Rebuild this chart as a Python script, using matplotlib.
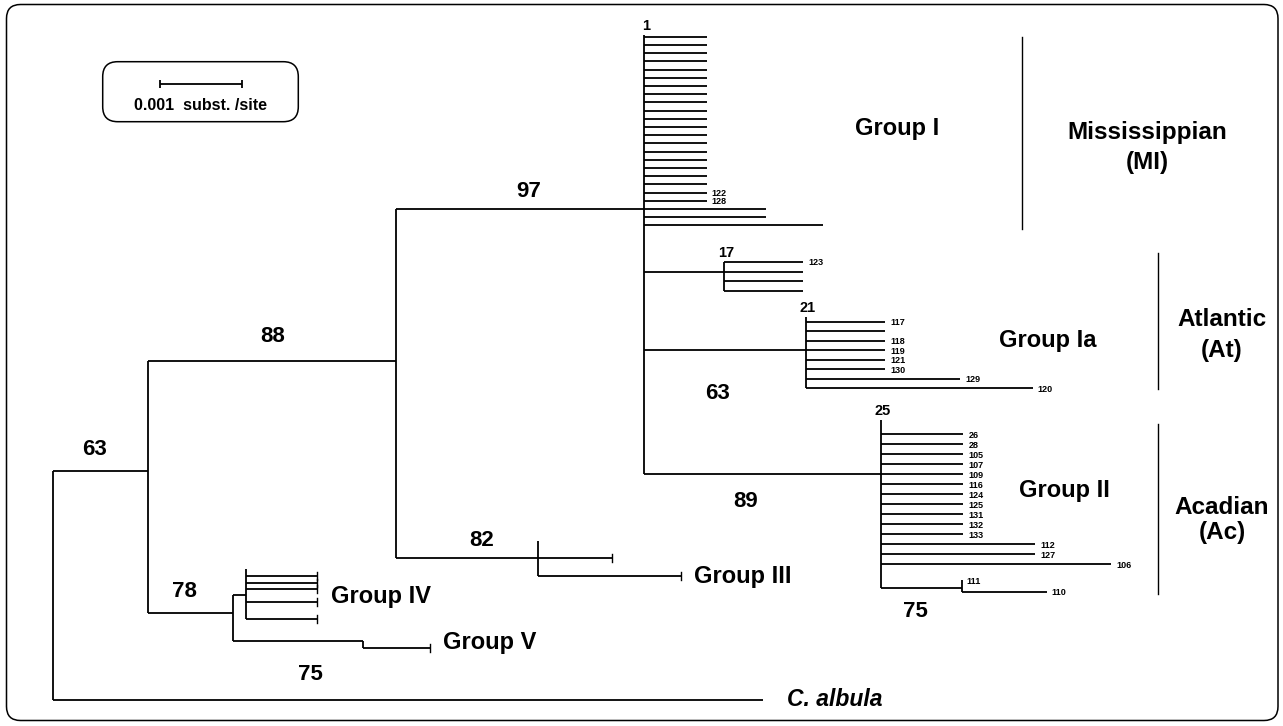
import matplotlib.pyplot as plt
from matplotlib.patches import FancyBboxPatch
from matplotlib.transforms import IdentityTransform

plt.rcParams['font.family'] = ['Liberation Sans', 'DejaVu Sans']

# ---------------------------------------------------------------
# tree data, branch lengths in subst./site
# ---------------------------------------------------------------
stem_parent = ['root', 'n63', 'n88', 'n97', 'n97', 'n97', 'n25', 'n88', 'n63', 'n78', 'n78']
stem_child = ['n63', 'n88', 'n97', 'n17', 'n21', 'n25', 'n111', 'n82', 'n78', 'nIV', 'nV']
stem_len = [0.00116, 0.00304, 0.00303, 0.00098, 0.00198, 0.00290,
            0.00099, 0.00173, 0.00104, 0.00016, 0.00159]

albula_len = 0.00869

# terminal branches hanging from each node
group1_len = [0.00077, 0.00077, 0.00077, 0.00077, 0.00077, 0.00077, 0.00077,
              0.00077, 0.00077, 0.00077, 0.00077, 0.00077, 0.00077, 0.00077,
              0.00077, 0.00077, 0.00077, 0.00077, 0.00077, 0.00077, 0.00077,
              0.00149, 0.00149, 0.00219]
group1_lab = [''] * 19 + ['122', '128', '', '', '']

hap17_len = [0.00097, 0.00097, 0.00097, 0.00097]
hap17_lab = ['123', '', '', '']

hap21_len = [0.00097, 0.00097, 0.00097, 0.00097, 0.00097, 0.00097, 0.00189, 0.00278]
hap21_lab = ['117', '', '118', '119', '121', '130', '129', '120']

group2_len = [0.00101, 0.00101, 0.00101, 0.00101, 0.00101, 0.00101, 0.00101,
              0.00101, 0.00101, 0.00101, 0.00101, 0.00189, 0.00189, 0.00282]
group2_lab = ['26', '28', '105', '107', '109', '116', '124', '125', '131',
              '132', '133', '112', '127', '106']

hap111_len = [0.0, 0.00104]
hap111_lab = ['111', '110']

group3_len = [0.0, 0.00091, 0.00175]
group4_len = [0.0, 0.00087, 0.00087, 0.00087, 0.00087, 0.00087]
group5_len = [0.0, 0.00082]

# bootstrap support of the branch leading to each node
boot_node = ['n63', 'n88', 'n97', 'n82', 'n78', 'nV', 'n21', 'n25', 'n111']
boot_val = [63, 88, 97, 82, 78, 75, 63, 89, 75]

# haplotype sitting on the node
hap_node = ['n97', 'n17', 'n21', 'n25']
hap_lab = ['1', '17', '21', '25']

tip_len = {'n97': group1_len, 'n17': hap17_len, 'n21': hap21_len, 'n25': group2_len,
           'n111': hap111_len, 'n82': group3_len, 'nIV': group4_len, 'nV': group5_len}
tip_lab = {'n97': group1_lab, 'n17': hap17_lab, 'n21': hap21_lab, 'n25': group2_lab,
           'n111': hap111_lab}

# ---------------------------------------------------------------
# layout (vertical positions in pixels from the top)
# ---------------------------------------------------------------
W, H, DPI = 1283, 726, 100
SCALE_PX = 81.7      # pixels for 0.001 subst./site
ROOT_PX = 53.3

# (first row, row step) or explicit rows
tip_rows = {'n97': (36.7, 8.2), 'n17': (261.7, 9.8), 'n21': (321.7, 9.5),
            'n25': (434.3, 10.0), 'n111': (580.0, 11.7), 'n82': (540.7, 17.7),
            'nIV': [569.3, 575.7, 583.3, 589.0, 601.7, 619.3], 'nV': (640.7, 7.6)}
anchor_tip = {'n97': 21, 'n17': 1, 'n21': 3, 'n25': 4, 'n82': 1, 'nV': 0}
free_y = {'n63': 470.7, 'n88': 361.0, 'n78': 613.3, 'nIV': 595.0, 'n111': 587.7}
top_pad = {'n97': 2, 'n21': 4.5, 'n25': 14}
albula_y = 700.0
ticked = ['n82', 'nIV', 'nV']

# label offsets (dx, dy) in pixels from the branch midpoint
boot_off = {'n63': (-6, -21), 'n88': (0, -24), 'n97': (8, -17), 'n82': (15, -18),
            'n78': (-6, -22), 'nV': (12, 34), 'n21': (-7, 43), 'n25': (-17, 27),
            'n111': (-6, 24)}


def dpx(d):
    return d / SCALE_PX * 1e-3


def px(v):
    return dpx(v - ROOT_PX)


fig = plt.figure(figsize=(W / DPI, H / DPI), dpi=DPI)
ax = fig.add_axes([0, 0, 1, 1])
ax.set_xlim(px(0), px(W))
ax.set_ylim(H, 0)
ax.axis('off')

LW = 1.3
K = dict(color='black', lw=LW, solid_capstyle='butt')

# node positions
node_x = {'root': 0.0}
for p, c, l in zip(stem_parent, stem_child, stem_len):
    node_x[c] = node_x[p] + l

rows = {}
for node, r in tip_rows.items():
    if isinstance(r, list):
        rows[node] = r
    else:
        y0, step = r
        rows[node] = [y0 + step * i for i in range(len(tip_len[node]))]

node_y = {n: rows[n][i] for n, i in anchor_tip.items()}
node_y.update(free_y)

span = {n: [] for n in node_x}
for node in rows:
    span[node] += rows[node]
for p, c in zip(stem_parent, stem_child):
    span[p].append(node_y[c])
span['root'].append(albula_y)
for node, pad in top_pad.items():
    span[node].append(min(span[node]) - pad)

# vertical connectors
for node, ys in span.items():
    ax.plot([node_x[node]] * 2, [min(ys), max(ys)], **K)

# internal branches
for p, c in zip(stem_parent, stem_child):
    ax.plot([node_x[p], node_x[c]], [node_y[c]] * 2, **K)

# outgroup
ax.plot([0, albula_len], [albula_y] * 2, **K)
ax.text(px(787), albula_y, 'C. albula', fontsize=16.5, fontweight='bold',
        fontstyle='italic', va='center', ha='left')

# terminal branches
for node, lens in tip_len.items():
    x0 = node_x[node]
    labs = tip_lab.get(node, [''] * len(lens))
    for l, y, lab in zip(lens, rows[node], labs):
        if l > 0:
            ax.plot([x0, x0 + l], [y, y], **K)
            if node in ticked:
                ax.plot([x0 + l] * 2, [y - 4, y + 4], color='black', lw=1.0)
        if lab:
            ax.text(x0 + l + dpx(5), y + 1, lab, fontsize=6.5, fontweight='bold',
                    va='center', ha='left')

# bootstrap values
parent_of = dict(zip(stem_child, stem_parent))
for node, val in zip(boot_node, boot_val):
    dx, dy = boot_off[node]
    xm = (node_x[parent_of[node]] + node_x[node]) / 2 + dpx(dx)
    ax.text(xm, node_y[node] + dy, str(val), fontsize=16, fontweight='bold',
            ha='center', va='center')

# haplotype numbers on nodes
for node, lab in zip(hap_node, hap_lab):
    ax.text(node_x[node] + dpx(2), min(span[node]) - 2, lab, fontsize=10.5,
            fontweight='bold', ha='center', va='bottom')

# clade names
group_txt = ['Group I', 'Group Ia', 'Group II', 'Group III', 'Group IV', 'Group V']
group_pos = [(897, 128), (1048, 341), (1064, 490), (743, 577), (381, 597), (490, 643)]
for t, (gx, gy) in zip(group_txt, group_pos):
    ax.text(px(gx), gy, t, fontsize=17, fontweight='bold', ha='center', va='center')

# lineages
region_txt = [('Mississippian', '(MI)'), ('Atlantic', '(At)'), ('Acadian', '(Ac)')]
region_pos = [(1147, 132, 163), (1222, 320, 350), (1222, 507, 532)]
for (t1, t2), (rx, y1, y2) in zip(region_txt, region_pos):
    ax.text(px(rx), y1, t1, fontsize=17.5, fontweight='bold', ha='center', va='center')
    ax.text(px(rx), y2, t2, fontsize=17.5, fontweight='bold', ha='center', va='center')

region_bar = [(1022.3, 37.3, 229.0), (1158.3, 253.3, 389.3), (1158.3, 424.0, 594.0)]
for bx, b0, b1 in region_bar:
    ax.plot([px(bx)] * 2, [b0, b1], color='black', lw=1.0)


def rbox(x0, y0, x1, y1, r, lw):
    p = FancyBboxPatch((x0, H - y1), x1 - x0, y1 - y0,
                       boxstyle=f'round,pad=0,rounding_size={r}',
                       transform=IdentityTransform(), fill=False, ec='black', lw=lw)
    fig.add_artist(p)


# scale bar
rbox(102.7, 61.7, 298.3, 121.7, 15, 1.1)
sb_x, sb_y = px(160), 84.3
ax.plot([sb_x, sb_x + 0.001], [sb_y, sb_y], **K)
ax.plot([sb_x] * 2, [sb_y - 4, sb_y + 4], **K)
ax.plot([sb_x + 0.001] * 2, [sb_y - 4, sb_y + 4], **K)
ax.text(sb_x + 0.0005, 105, '0.001  subst. /site', fontsize=11.5, fontweight='bold',
        ha='center', va='center')

# outer frame
rbox(6.5, 4.5, 1278.0, 720.5, 14, 1.1)

fig.savefig('out.png', dpi=DPI, facecolor='white')
